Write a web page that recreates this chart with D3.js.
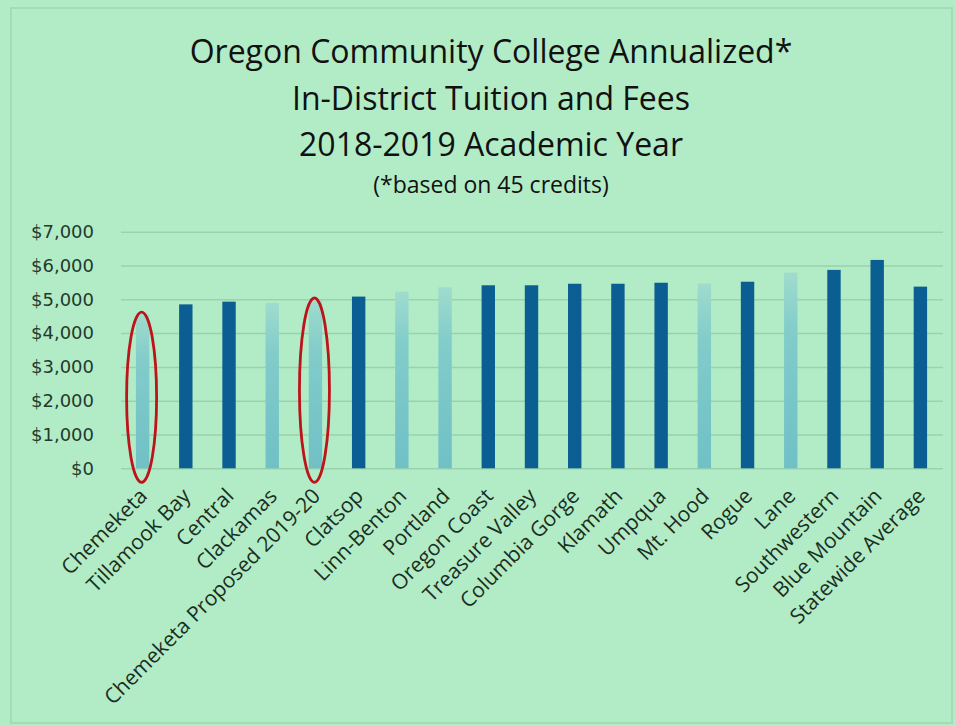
<!DOCTYPE html>
<html>
<head>
<meta charset="utf-8">
<script src="https://cdn.jsdelivr.net/npm/d3@7"></script>
<style>
  html, body { margin: 0; padding: 0; background: #b2ecc6; }
  svg { display: block; }
</style>
</head>
<body>
<svg id="chart" width="956" height="726"></svg>
<script>
// ---- data ----
const titleLines = [
  "Oregon Community College Annualized*",
  "In-District Tuition and Fees",
  "2018-2019 Academic Year"
];
const subtitle = "(*based on 45 credits)";

const categories = [
  "Chemeketa", "Tillamook Bay", "Central", "Clackamas", "Chemeketa Proposed 2019-20",
  "Clatsop", "Linn-Benton", "Portland", "Oregon Coast", "Treasure Valley",
  "Columbia Gorge", "Klamath", "Umpqua", "Mt. Hood", "Rogue",
  "Lane", "Southwestern", "Blue Mountain", "Statewide Average"
];
const tuition = [
  4560, 4850, 4930, 4890, 4980,
  5080, 5225, 5355, 5415, 5415,
  5460, 5460, 5490, 5470, 5520,
  5790, 5870, 6165, 5375
];
// bars drawn in the pale (faded) style
const paleBars = ["Chemeketa", "Clackamas", "Chemeketa Proposed 2019-20", "Linn-Benton", "Portland", "Mt. Hood", "Lane"];
// bars circled in red
const circled = ["Chemeketa", "Chemeketa Proposed 2019-20"];
const yTicks = [0, 1000, 2000, 3000, 4000, 5000, 6000, 7000];

// ---- layout ----
const W = 956, H = 726;
const plot = { left: 121, right: 942, top: 231.7, bottom: 468.3 };

const svg = d3.select("#chart");

// background + frame
svg.append("rect").attr("x", 0).attr("y", 0).attr("width", W).attr("height", H).attr("fill", "#b2ecc6");
svg.append("rect").attr("x", 11).attr("y", 8).attr("width", 941).attr("height", 715)
  .attr("fill", "none").attr("stroke", "#a2dbb4").attr("stroke-width", 2);

const defs = svg.append("defs");
const grad = defs.append("linearGradient").attr("id", "pale").attr("x1", 0).attr("y1", 0).attr("x2", 0).attr("y2", 1);
grad.append("stop").attr("offset", "0%").attr("stop-color", "#9fdccd");
grad.append("stop").attr("offset", "30%").attr("stop-color", "#82ccca");
grad.append("stop").attr("offset", "100%").attr("stop-color", "#70c0c6");

// titles
const titleG = svg.append("g").attr("font-family", "'Open Sans', sans-serif").attr("fill", "#111").attr("text-anchor", "middle");
const titleBase = [63, 110, 156];
titleLines.forEach((t, i) => {
  titleG.append("text").attr("x", 491).attr("y", titleBase[i]).attr("font-size", 32).text(t);
});
titleG.append("text").attr("x", 491).attr("y", 193).attr("font-size", 23).text(subtitle);

// scales
const x = d3.scaleBand().domain(categories).range([plot.left, plot.right]).paddingInner(0.69).paddingOuter(0.345);
const y = d3.scaleLinear().domain([0, 7000]).range([plot.bottom, plot.top]);

// gridlines + y labels
const yAxis = d3.axisLeft(y).tickValues(yTicks).tickFormat(d3.format("$,")).tickSize(-(plot.right + 1 - plot.left)).tickPadding(27);
const gy = svg.append("g").attr("transform", `translate(${plot.left},0)`).call(yAxis);
gy.select(".domain").remove();
gy.selectAll(".tick line").attr("stroke", "#9bd2ae").attr("stroke-width", 1.5);
gy.selectAll(".tick text").attr("font-family", "'DejaVu Sans', Verdana, sans-serif").attr("font-size", 18).attr("fill", "#233a2c");

// bars
const data = categories.map((c, i) => ({ c, v: tuition[i] }));
svg.append("g").selectAll("rect").data(data).join("rect")
  .attr("x", d => x(d.c))
  .attr("width", x.bandwidth())
  .attr("y", d => y(d.v))
  .attr("height", d => y(0) - y(d.v))
  .attr("fill", d => paleBars.includes(d.c) ? "url(#pale)" : "#0b5e91");

// x labels
const xAxis = d3.axisBottom(x).tickSize(0);
const gx = svg.append("g").attr("transform", `translate(0,${plot.bottom})`).call(xAxis);
gx.select(".domain").remove();
gx.selectAll(".tick text")
  .attr("x", 0).attr("y", 0).attr("dy", 0)
  .attr("text-anchor", "end")
  .attr("transform", "translate(6,29) rotate(-45)")
  .attr("font-family", "'Open Sans', sans-serif").attr("font-size", 21).attr("fill", "#1b2e22");

// red ellipses
svg.append("g").selectAll("ellipse").data(data.filter(d => circled.includes(d.c))).join("ellipse")
  .attr("cx", d => x(d.c) + x.bandwidth() / 2 - 1)
  .attr("cy", d => ((y(d.v) - 2) + (y(0) + 14)) / 2)
  .attr("rx", 15)
  .attr("ry", d => ((y(0) + 14) - (y(d.v) - 2)) / 2)
  .attr("fill", "none").attr("stroke", "#bd141b").attr("stroke-width", 2.8);
</script>
</body>
</html>
